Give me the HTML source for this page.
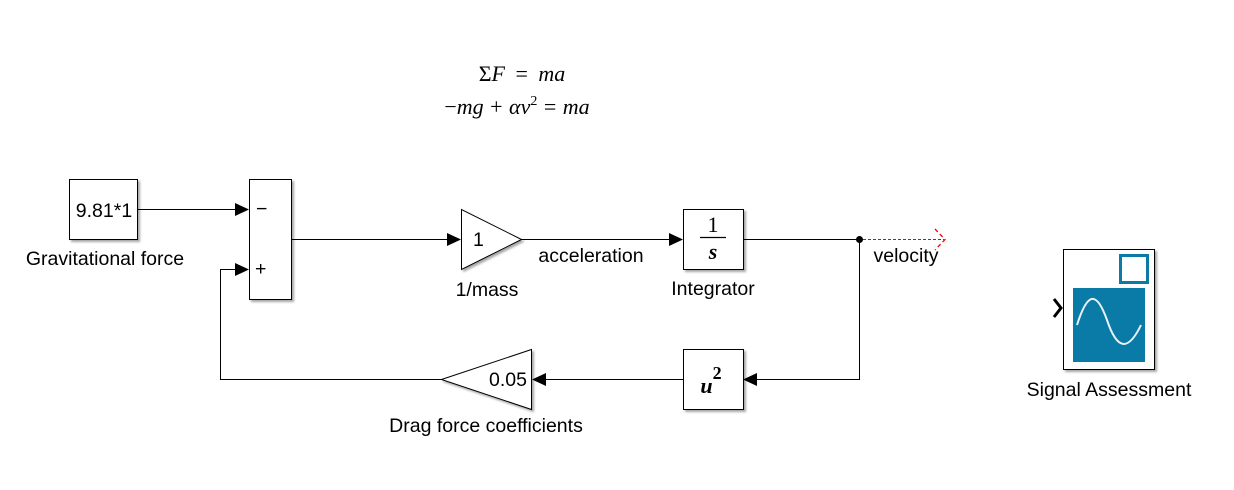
<!DOCTYPE html>
<html><head><meta charset="utf-8"><style>
html,body{margin:0;padding:0;background:#fff;}
svg{display:block;}
.s{font-family:"Liberation Sans",sans-serif;font-size:19.5px;fill:#000;}
.m{font-family:"Liberation Serif",serif;font-size:22px;fill:#000;}
</style></head><body>
<svg width="1234" height="490" viewBox="0 0 1234 490" xmlns="http://www.w3.org/2000/svg">
<defs>
<filter id="sh" x="-10%" y="-10%" width="130%" height="130%"><feDropShadow dx="2" dy="2" stdDeviation="1" flood-color="#000" flood-opacity="0.35"/></filter>
</defs>
<!-- equations -->
<text class="m" x="522" y="81" text-anchor="middle" word-spacing="5">Σ<tspan font-style="italic">F</tspan> = <tspan font-style="italic">ma</tspan></text>
<text class="m" x="517" y="114" text-anchor="middle" word-spacing="1">−<tspan font-style="italic">mg</tspan> + <tspan font-style="italic">αv</tspan><tspan font-size="14" dy="-9">2</tspan><tspan dy="9"> = </tspan><tspan font-style="italic">ma</tspan></text>

<g fill="#fff" stroke="#000" stroke-width="1" filter="url(#sh)">
<rect x="69.5" y="179.5" width="68" height="60"/>
<rect x="249.5" y="179.5" width="42" height="120"/>
<polygon points="461.5,209.5 461.5,269.5 521.5,239.5"/>
<rect x="683.5" y="209.5" width="60" height="60"/>
<rect x="683.5" y="349.5" width="60" height="60"/>
<polygon points="441.5,379.5 531.5,349.5 531.5,409.5"/>
<rect x="1063.5" y="249.5" width="91" height="120"/>
</g>
<!-- block texts -->
<text class="s" x="104" y="217" text-anchor="middle" font-size="21">9.81*1</text>
<text class="s" x="256" y="215">−</text>
<text class="s" x="255" y="275" font-size="18">+</text>
<text class="s" x="473" y="246" font-size="19">1</text>
<text class="s" x="489" y="386" font-size="19">0.05</text>
<text class="m" x="713" y="232" text-anchor="middle" font-size="22">1</text>
<line x1="700" y1="237.5" x2="726" y2="237.5" stroke="#000" stroke-width="1.3"/>
<text class="m" x="713" y="259" text-anchor="middle" font-size="23" font-style="italic" font-weight="bold">s</text>
<text class="m" x="711" y="393" text-anchor="middle" font-size="32" font-style="italic" font-weight="bold">u<tspan font-size="18" dy="-14" font-style="normal">2</tspan></text>

<!-- labels -->
<text class="s" x="105" y="265" text-anchor="middle">Gravitational force</text>
<text class="s" x="487" y="296" text-anchor="middle">1/mass</text>
<text class="s" x="591" y="262" text-anchor="middle" font-size="16">acceleration</text>
<text class="s" x="906" y="262" text-anchor="middle" font-size="16">velocity</text>
<text class="s" x="713" y="295" text-anchor="middle">Integrator</text>
<text class="s" x="486" y="432" text-anchor="middle">Drag force coefficients</text>
<text class="s" x="1109" y="396" text-anchor="middle">Signal Assessment</text>

<!-- lines -->
<g stroke="#000" stroke-width="1" fill="none">
<line x1="137" y1="209.5" x2="238" y2="209.5"/>
<line x1="291" y1="239.5" x2="450" y2="239.5"/>
<line x1="521" y1="239.5" x2="672" y2="239.5"/>
<polyline points="743,239.5 859.5,239.5 859.5,379.5 756,379.5"/>
<line x1="683" y1="379.5" x2="545" y2="379.5"/>
<polyline points="441,379.5 220.5,379.5 220.5,269.5 238,269.5"/>
</g>
<g fill="#000">
<polygon points="235,203 249,209.5 235,216"/>
<polygon points="235,263 249,269.5 235,276"/>
<polygon points="447,233 461,239.5 447,246"/>
<polygon points="669,233 683,239.5 669,246"/>
<polygon points="757,373 743,379.5 757,386"/>
<polygon points="546,373 532,379.5 546,386"/>
<circle cx="859.5" cy="239.5" r="3.5"/>
</g>
<line x1="863" y1="239.5" x2="944" y2="239.5" stroke="#e00" stroke-width="1" stroke-dasharray="3,2"/>
<polyline points="935,229 945,239.5 935,250" stroke="#e00" stroke-width="1.3" fill="none" stroke-dasharray="4,3"/>

<!-- scope icon -->
<rect x="1073" y="288" width="72" height="74" fill="#0a7aa6"/>
<rect x="1120.5" y="255.5" width="27" height="27" fill="none" stroke="#0a7aa6" stroke-width="3"/>
<path d="M1077,325 C1088,290 1097,292 1107,320 C1117,350 1128,352 1141,325" stroke="#e6f3f8" stroke-width="2" fill="none"/>
<polyline points="1054,299 1061,308 1054,317" stroke="#000" stroke-width="3" fill="none"/>
</svg>
</body></html>
